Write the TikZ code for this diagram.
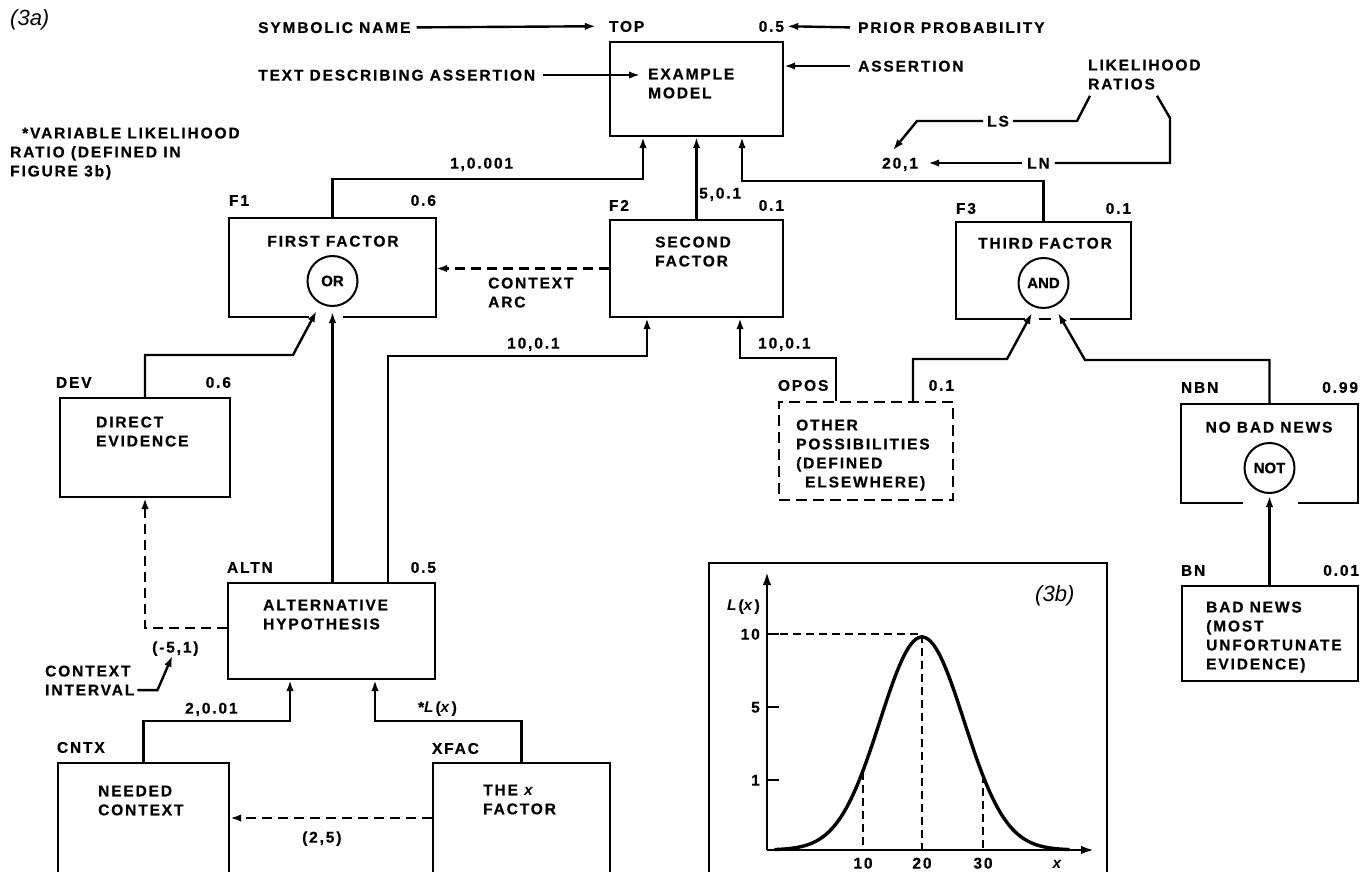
\documentclass[tikz,border=0pt]{standalone}
\usepackage{fontspec}
\setmainfont{Liberation Sans}[LetterSpace=12, BoldFeatures={FakeBold=0.6}]
\newfontfamily\gf{Liberation Sans}[BoldFeatures={FakeBold=0.6}]
\newfontfamily\itsans{Liberation Sans}
\usetikzlibrary{arrows.meta,calc}
\newcommand\ft{\bfseries\fontsize{15.5}{19}\selectfont}
\begin{document}
\begin{tikzpicture}[x=1pt,y=-1pt,
 wire/.style={line width=2.4pt},
 arr/.style={line width=2.4pt,-{Latex[length=11pt,width=7.5pt]}},
 darr/.style={arr, dash pattern=on 10pt off 6pt},
 dsh/.style={dash pattern=on 11pt off 6pt},
 box/.style={draw, line width=2.4pt, inner sep=0pt},
 gbox/.style={inner sep=0pt, outer sep=1.2pt},
 lbl/.style={inner sep=0pt, font=\ft, text height=11.1pt, text depth=0pt},
 mtxt/.style={inner sep=0pt, font=\ft, align=left, anchor=north west},
 gate/.style={draw, circle, line width=2pt, minimum size=50pt, inner sep=0pt, font=\gf\bfseries\fontsize{15}{17}\selectfont},
 gd/.style={line width=1.7pt, dash pattern=on 8pt off 5pt},
 axarr/.style={line width=2.4pt,-{Latex[length=13pt,width=8.5pt]}},
 ital/.style={inner sep=0pt, font=\itsans\itshape\fontsize{22}{24}\selectfont}
]
\useasboundingbox (0,0) rectangle (1360,872);
\fill[white] (0,0) rectangle (1360,872);
\clip (0,0) rectangle (1360,872);

% ---------- boxes ----------
\node[box, minimum width=173pt, minimum height=94pt] (topm) at (696.5,89) {};
\node[gbox, minimum width=205pt, minimum height=97pt] (f1) at (332.5,267.5) {};
\node[box, minimum width=173pt, minimum height=97pt] (f2) at (696.5,268.5) {};
\node[gbox, minimum width=173pt, minimum height=95pt] (f3) at (1043.5,270.5) {};
\node[box, minimum width=170pt, minimum height=99pt] (dev) at (145,447.5) {};
\node[box, dsh, minimum width=174pt, minimum height=98pt] (opos) at (866,451) {};
\node[gbox, minimum width=175pt, minimum height=97pt] (nbn) at (1269.5,453.5) {};
\node[box, minimum width=207pt, minimum height=96pt] (altn) at (331.5,631) {};
\node[box, minimum width=176pt, minimum height=95pt] (bn) at (1270,633.5) {};
\node[box, minimum width=171pt, minimum height=127pt] (cntx) at (143.5,826.5) {};
\node[box, minimum width=177pt, minimum height=127pt] (xfac) at (521.5,826.5) {};

% outlines of boxes with a gap below the gate
\draw[wire] ([xshift=-24pt]f1.south) -| (f1.north west) -| (f1.south east) -- ([xshift=10.5pt]f1.south);
\draw[wire] ([xshift=-18.5pt]f3.south) -| (f3.north west) -| (f3.south east) -- ([xshift=26.5pt]f3.south);
\draw[wire] ([xshift=-5pt]f3.south) -- ([xshift=7pt]f3.south);
\draw[wire] ([xshift=-26.5pt]nbn.south) -| (nbn.north west) -| (nbn.south east) -- ([xshift=28.5pt]nbn.south);

% gates
\node[gate] (orc) at (332.5,281) {OR};
\node[gate] (andc) at (1043.5,283) {AND};
\node[gate] (notc) at (1269.5,468) {NOT};

% ---------- box texts ----------
\node[mtxt] (toptxt) at (648,68.4) {EXAMPLE\\MODEL};
\node[lbl] (f1txt) at (333,241) {FIRST FACTOR};
\node[mtxt] (f2txt) at (655,236.4) {SECOND\\FACTOR};
\node[lbl] (f3txt) at (1045,243) {THIRD FACTOR};
\node[mtxt] (devtxt) at (96,416.4) {DIRECT\\EVIDENCE};
\node[mtxt] (opostxt) at (796,419.4) {OTHER\\POSSIBILITIES\\(DEFINED\\\hspace*{9pt}ELSEWHERE)};
\node[lbl] (nbntxt) at (1269,427) {NO BAD NEWS};
\node[mtxt] (altntxt) at (263,599.4) {ALTERNATIVE\\HYPOTHESIS};
\node[mtxt] (bntxt) at (1206,601.4) {BAD NEWS\\(MOST\\UNFORTUNATE\\EVIDENCE)};
\node[mtxt] (cntxtxt) at (98,785.4) {NEEDED\\CONTEXT};
\node[mtxt] (xfactxt) at (483,784.4) {THE \textit{x}\\FACTOR};

% ---------- symbolic names and probabilities ----------
\node[lbl, anchor=base west] (topn) at ([yshift=9pt]topm.north west) {TOP};
\node[lbl, anchor=base east] (topp) at ([yshift=9pt]topm.north east) {0.5};
\node[lbl, anchor=base west] (f1n) at ([yshift=12pt]f1.north west) {F1};
\node[lbl, anchor=base east] (f1p) at ([yshift=12pt]f1.north east) {0.6};
\node[lbl, anchor=base west] (f2n) at ([yshift=8pt]f2.north west) {F2};
\node[lbl, anchor=base east] (f2p) at ([yshift=8pt]f2.north east) {0.1};
\node[lbl, anchor=base west] (f3n) at ([yshift=8pt]f3.north west) {F3};
\node[lbl, anchor=base east] (f3p) at ([yshift=8pt]f3.north east) {0.1};
\node[lbl, anchor=base west] (devn) at ([xshift=-3pt,yshift=9pt]dev.north west) {DEV};
\node[lbl, anchor=base east] (devp) at ([yshift=9pt]dev.north east) {0.6};
\node[lbl, anchor=base west] (oposn) at ([yshift=10pt]opos.north west) {OPOS};
\node[lbl, anchor=base east] (oposp) at ([yshift=10pt]opos.north east) {0.1};
\node[lbl, anchor=base west] (nbnn) at ([yshift=11pt]nbn.north west) {NBN};
\node[lbl, anchor=base east] (nbnp) at ([yshift=11pt]nbn.north east) {0.99};
\node[lbl, anchor=base west] (altnn) at ([yshift=9pt]altn.north west) {ALTN};
\node[lbl, anchor=base east] (altnp) at ([yshift=9pt]altn.north east) {0.5};
\node[lbl, anchor=base west] (bnn) at ([yshift=9pt]bn.north west) {BN};
\node[lbl, anchor=base east] (bnp) at ([yshift=9pt]bn.north east) {0.01};
\node[lbl, anchor=base west] (cntxn) at ([yshift=9pt]cntx.north west) {CNTX};
\node[lbl, anchor=base west] (xfacn) at ([yshift=8pt]xfac.north west) {XFAC};

% ---------- connectors ----------
\draw[arr] (f1.north) |- ([xshift=-53.5pt,yshift=-42pt]topm.south) -- ([xshift=-53.5pt]topm.south);
\draw[arr] (f2.north) -- (topm.south);
\draw[arr] (f3.north) |- ([xshift=45.5pt,yshift=-44pt]topm.south) -- ([xshift=45.5pt]topm.south);
\draw[darr] (f2.west) -- (f2.west -| f1.east);
\draw[arr] (dev.north) |- ([xshift=-39.5pt,yshift=-48pt]orc.south) -- ([xshift=-16pt,yshift=-4pt]orc.south);
\draw[arr] (orc.south |- altn.north) -- ([yshift=-5pt]orc.south);
\draw[arr] ([xshift=56.5pt]altn.north) |- ([xshift=-49.5pt,yshift=-38pt]f2.south) -- ([xshift=-49.5pt]f2.south);
\draw[arr] ([xshift=-30pt]opos.north) |- ([xshift=43.5pt,yshift=-40pt]f2.south) -- ([xshift=43.5pt]f2.south);
\draw[arr] ([xshift=47pt]opos.north) |- ([xshift=-36.5pt,yshift=-50pt]andc.south) -- ([xshift=-11.5pt,yshift=-4pt]andc.south);
\draw[arr] (nbn.north) |- ([xshift=41.5pt,yshift=-51pt]andc.south) -- ([xshift=14.5pt,yshift=-4pt]andc.south);
\draw[arr] (notc.south |- bn.north) -- ([yshift=-2pt]notc.south);
\draw[darr] ([yshift=3pt]altn.west) -| (dev.south);
\draw[arr] (cntx.north) |- ([xshift=-41.5pt,yshift=-41pt]altn.south) -- ([xshift=-41.5pt]altn.south);
\draw[arr] (xfac.north) |- ([xshift=43.5pt,yshift=-41pt]altn.south) -- ([xshift=43.5pt]altn.south);
\draw[darr] ([yshift=8.5pt]xfac.west) -- ([yshift=8.5pt]cntx.east);

% ---------- connector labels ----------
\node[lbl, anchor=west] (l1) at (450,163) {1,0.001};
\node[lbl, anchor=west] (l5) at (699,193) {5,0.1};
\node[lbl, anchor=west] (l10a) at (507,343) {10,0.1};
\node[lbl, anchor=west] (l10b) at (758,343) {10,0.1};
\node[mtxt] (carc) at (488,277.4) {CONTEXT\\ARC};
\node[lbl, anchor=west] (cint) at (152,647) {(-5,1)};
\node[mtxt] (ci) at (45,665.4) {CONTEXT\\INTERVAL};
\draw[arr] ([xshift=3pt,yshift=5.5pt]ci.south east) -- ++(20,0) -- ([xshift=-3pt,yshift=-3pt]cint.south);
\node[lbl, anchor=west] (l2) at (185,708) {2,0.01};
\node[lbl, anchor=west] (lx) at (418,707) {*\textit{L}(\textit{x})};
\node[lbl, anchor=west] (l25) at (302,837) {(2,5)};

% ---------- annotations at the top ----------
\node[ital, anchor=west] (t3a) at (10,20) {(3a)};
\node[lbl, anchor=west] (symname) at (258,27.4) {SYMBOLIC NAME};
\draw[arr] ([xshift=6pt]symname.east) -- ([xshift=-13pt]topn.west);
\node[lbl, anchor=west] (prior) at (858,27.4) {PRIOR PROBABILITY};
\draw[arr] ([xshift=-8pt]prior.west) -- ([xshift=3pt]topp.east);
\node[lbl, anchor=west] (tda) at (258,75) {TEXT DESCRIBING ASSERTION};
\coordinate (tend) at (tda.east -| toptxt.west);
\draw[arr] ([xshift=8pt]tda.east) -- ([xshift=-8pt]tend);
\node[lbl, anchor=west] (asrt) at (858,66) {ASSERTION};
\coordinate (aend) at (asrt.west -| topm.east);
\draw[arr] ([xshift=-8pt]asrt.west) -- (aend);
\node[mtxt] (lr) at (1088,59.4) {LIKELIHOOD\\RATIOS};
\node[lbl, anchor=west] (ls) at (987,121) {LS};
\node[lbl, anchor=west] (lnn) at (1027,163) {LN};
\node[lbl, anchor=west] (r20) at (882,163) {20,1};
\draw[wire] ([xshift=4pt]ls.east) -- (1077,121) -- ([xshift=2pt,yshift=-6pt]lr.south west);
\draw[arr] ([xshift=-4pt]ls.west) -- (917,121) -- ([xshift=11pt,yshift=7pt]r20.north west);
\draw[wire] ([xshift=5pt]lnn.east) -- (1170,163) -- (1170,118) -- ([xshift=69pt,yshift=-6pt]lr.south west);
\draw[arr] ([xshift=-5pt]lnn.west) -- ([xshift=10pt]r20.east);
\node[mtxt] (varlr) at (10,127.4) {\hspace*{12pt}*VARIABLE LIKELIHOOD\\RATIO (DEFINED IN\\FIGURE 3b)};

% ---------- figure 3b ----------
\draw[wire] (709,900) -- (709,563) -- (1107,563) -- (1107,900);
\draw[axarr] (767,850) -- (767,572);
\draw[axarr] (767,850) -- (1094,850);
\foreach \yy in {634,707,780} \draw[wire] (767,\yy) -- (779,\yy);
\draw[gd] (767,634) -- (922,634) -- (922,850);
\draw[gd] (863,772) -- (863,850);
\draw[gd] (983,775) -- (983,850);
\draw[line width=3.4pt, line cap=round] plot[domain=-3.5:3.5, samples=120, variable=\u] ({922+42*\u}, {850-213*exp(-\u*\u/2)});
\node[lbl, anchor=east] (ylab) at (760,605) {\textit{L}(\textit{x})};
\node[lbl, anchor=east] (yt10) at (760,634) {10};
\node[lbl, anchor=east] (yt5) at (760,707) {5};
\node[lbl, anchor=east] (yt1) at (760,780) {1};
\node[lbl] (xt10) at (863,863) {10};
\node[lbl] (xt20) at (922,863) {20};
\node[lbl] (xt30) at (983,863) {30};
\node[lbl] (xx) at (1058,863) {\textit{x}};
\node[ital, anchor=west] (t3b) at (1035,596) {(3b)};
\end{tikzpicture}
\end{document}
